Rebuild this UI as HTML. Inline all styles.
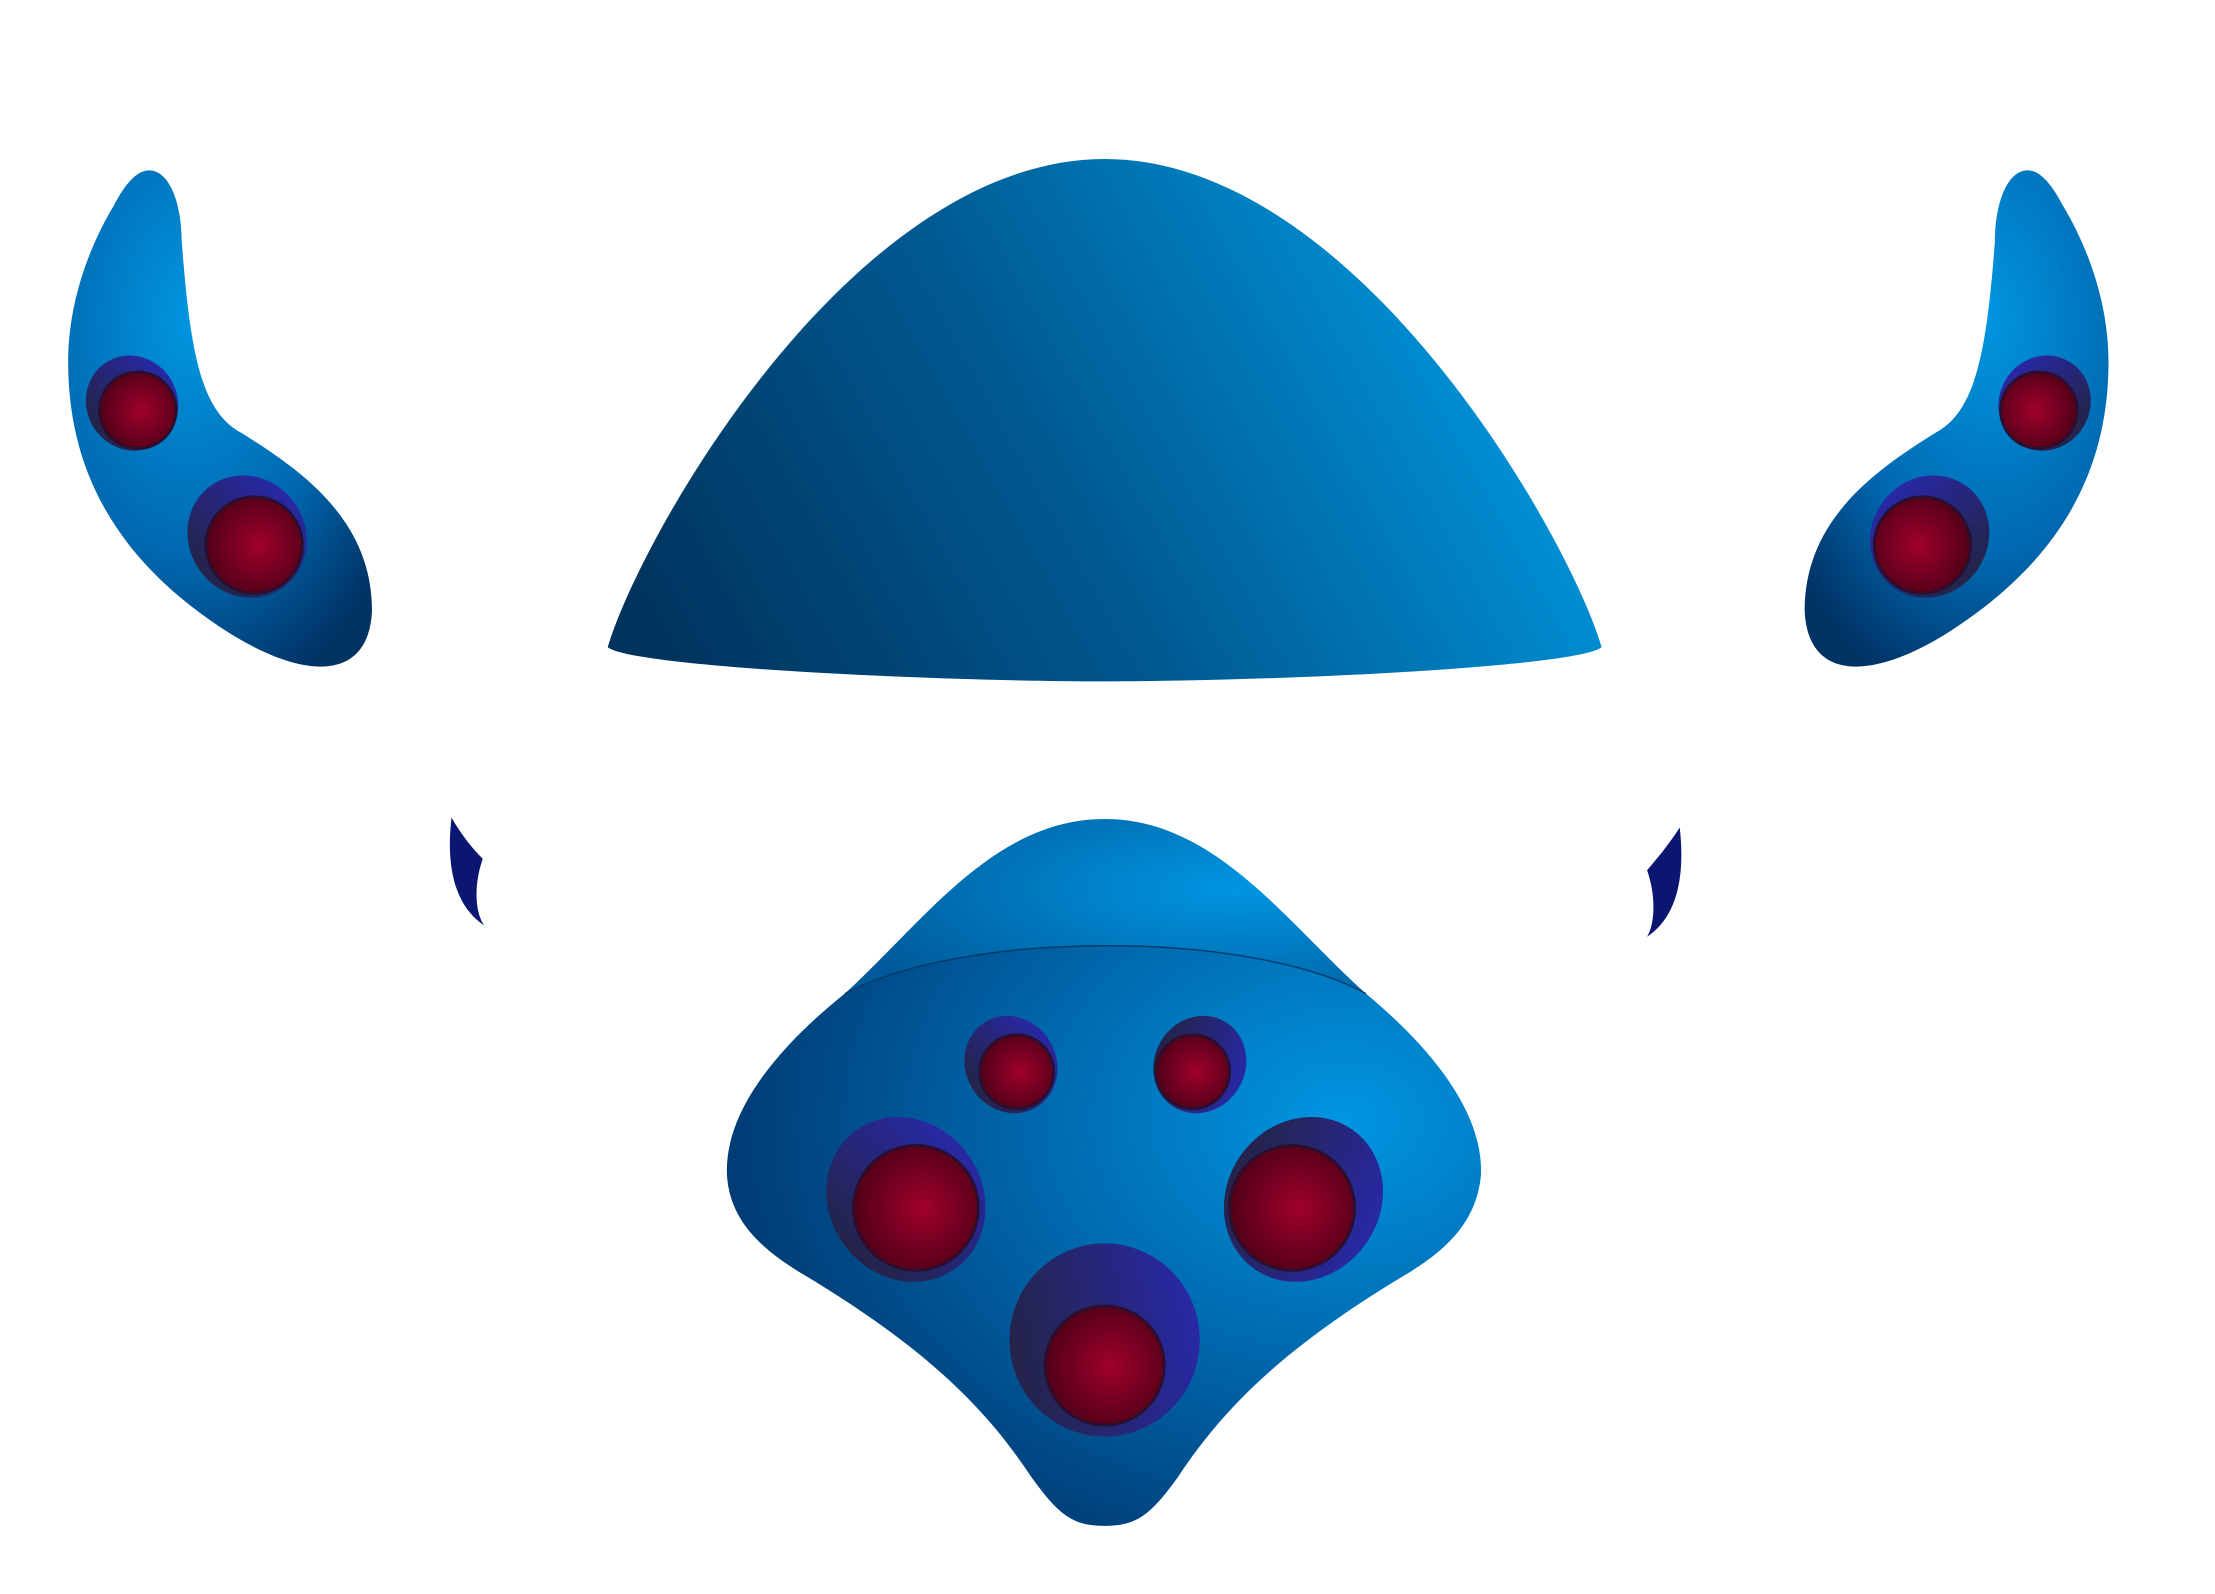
<!DOCTYPE html>
<html><head><meta charset="utf-8"><style>html,body{margin:0;padding:0;background:#fff}svg{display:block}</style></head>
<body>
<svg width="2215" height="1594" viewBox="0 0 1560 1123" preserveAspectRatio="none" xmlns="http://www.w3.org/2000/svg">
<defs>
<linearGradient id="dome" gradientUnits="userSpaceOnUse" x1="470" y1="470" x2="1010" y2="170"><stop offset="0" stop-color="#00335e"/><stop offset="0.5" stop-color="#005a92"/><stop offset="1" stop-color="#0092d8"/></linearGradient>
<radialGradient id="horn" cx="0.4" cy="0.3" r="0.8"><stop offset="0" stop-color="#0096e0"/><stop offset="0.6" stop-color="#0068b0"/><stop offset="1" stop-color="#003264"/></radialGradient>
<radialGradient id="body" cx="0.82" cy="0.3" r="0.9"><stop offset="0" stop-color="#0096e2"/><stop offset="0.5" stop-color="#0064a8"/><stop offset="1" stop-color="#00336a"/></radialGradient>
<radialGradient id="cap" cx="0.75" cy="0.4" r="0.8"><stop offset="0" stop-color="#0096e2"/><stop offset="1" stop-color="#005a9a"/></radialGradient>
<linearGradient id="ring" x1="0" y1="0.5" x2="1" y2="0.3"><stop offset="0" stop-color="#24244a"/><stop offset="1" stop-color="#2828a8"/></linearGradient>
<radialGradient id="red" cx="0.55" cy="0.5" r="0.6"><stop offset="0" stop-color="#a0002c"/><stop offset="1" stop-color="#4a0016"/></radialGradient>
</defs>
<g>
<path d="M428,456 C450,380 600,112 778,112 C956,112 1106,380 1128,456 C1110,470 900,480 778,480 C656,480 446,470 428,456 Z" fill="url(#dome)"/>
</g>
<g>
<path d="M105,120 C120,120 128,145 128,170 C134,250 142,290 170,305 C210,330 262,365 262,430 C260,480 215,480 160,445 C90,400 48,340 48,255 C48,210 65,170 80,145 C88,130 96,120 105,120 Z" fill="url(#horn)"/>
<ellipse cx="93" cy="284" rx="32" ry="34" transform="rotate(-30 93 284)" fill="url(#ring)"/><circle cx="97" cy="289" r="27" fill="url(#red)" stroke="#2a1030" stroke-width="2"/>
<ellipse cx="174" cy="378" rx="41" ry="44" transform="rotate(-35 174 378)" fill="url(#ring)"/><circle cx="179" cy="384" r="34" fill="url(#red)" stroke="#2a1030" stroke-width="2"/>
</g>
<g transform="translate(1533,0) scale(-1,1)">
<path d="M105,120 C120,120 128,145 128,170 C134,250 142,290 170,305 C210,330 262,365 262,430 C260,480 215,480 160,445 C90,400 48,340 48,255 C48,210 65,170 80,145 C88,130 96,120 105,120 Z" fill="url(#horn)"/>
<ellipse cx="93" cy="284" rx="32" ry="34" transform="rotate(-30 93 284)" fill="url(#ring)"/><circle cx="97" cy="289" r="27" fill="url(#red)" stroke="#2a1030" stroke-width="2"/>
<ellipse cx="174" cy="378" rx="41" ry="44" transform="rotate(-35 174 378)" fill="url(#ring)"/><circle cx="179" cy="384" r="34" fill="url(#red)" stroke="#2a1030" stroke-width="2"/>
</g>
<path d="M318,576 C325,588 332,597 340,605 C334,622 334,642 341,652 C320,638 314,610 318,576 Z" fill="#0a1670"/>
<path d="M1183,583 C1176,594 1168,604 1160,613 C1166,630 1166,650 1160,660 C1181,646 1187,618 1183,583 Z" fill="#0a1670"/>
<g>
<path d="M595,700 C650,650 700,577 778,577 C856,577 906,650 962,700 Z" fill="url(#cap)"/>
<path d="M595,700 C680,655 880,655 962,700 C1010,740 1045,785 1043,828 C1040,860 1020,880 990,898 C900,952 860,995 830,1040 C810,1068 800,1075 778,1075 C756,1075 746,1068 726,1040 C696,995 656,952 566,898 C536,880 514,860 512,828 C510,785 545,740 595,700 Z" fill="url(#body)"/>
<path d="M595,700 C680,655 880,655 962,700" fill="none" stroke="#003a6a" stroke-width="1"/>
<ellipse cx="712" cy="750" rx="32" ry="35" transform="rotate(-30 712 750)" fill="url(#ring)"/><circle cx="716" cy="755" r="26" fill="url(#red)" stroke="#2a1030" stroke-width="2"/>
<ellipse cx="845" cy="750" rx="32" ry="35" transform="rotate(30 845 750)" fill="url(#ring)"/><circle cx="840" cy="755" r="26" fill="url(#red)" stroke="#2a1030" stroke-width="2"/>
<ellipse cx="638" cy="845" rx="54" ry="60" transform="rotate(-35 638 845)" fill="url(#ring)"/><circle cx="645" cy="851" r="44" fill="url(#red)" stroke="#2a1030" stroke-width="2"/>
<ellipse cx="918" cy="845" rx="54" ry="60" transform="rotate(35 918 845)" fill="url(#ring)"/><circle cx="910" cy="851" r="44" fill="url(#red)" stroke="#2a1030" stroke-width="2"/>
<ellipse cx="778" cy="944" rx="67" ry="68" fill="url(#ring)"/><circle cx="778" cy="962" r="42" fill="url(#red)" stroke="#2a1030" stroke-width="2"/>
</g>
</svg>
</body></html>
